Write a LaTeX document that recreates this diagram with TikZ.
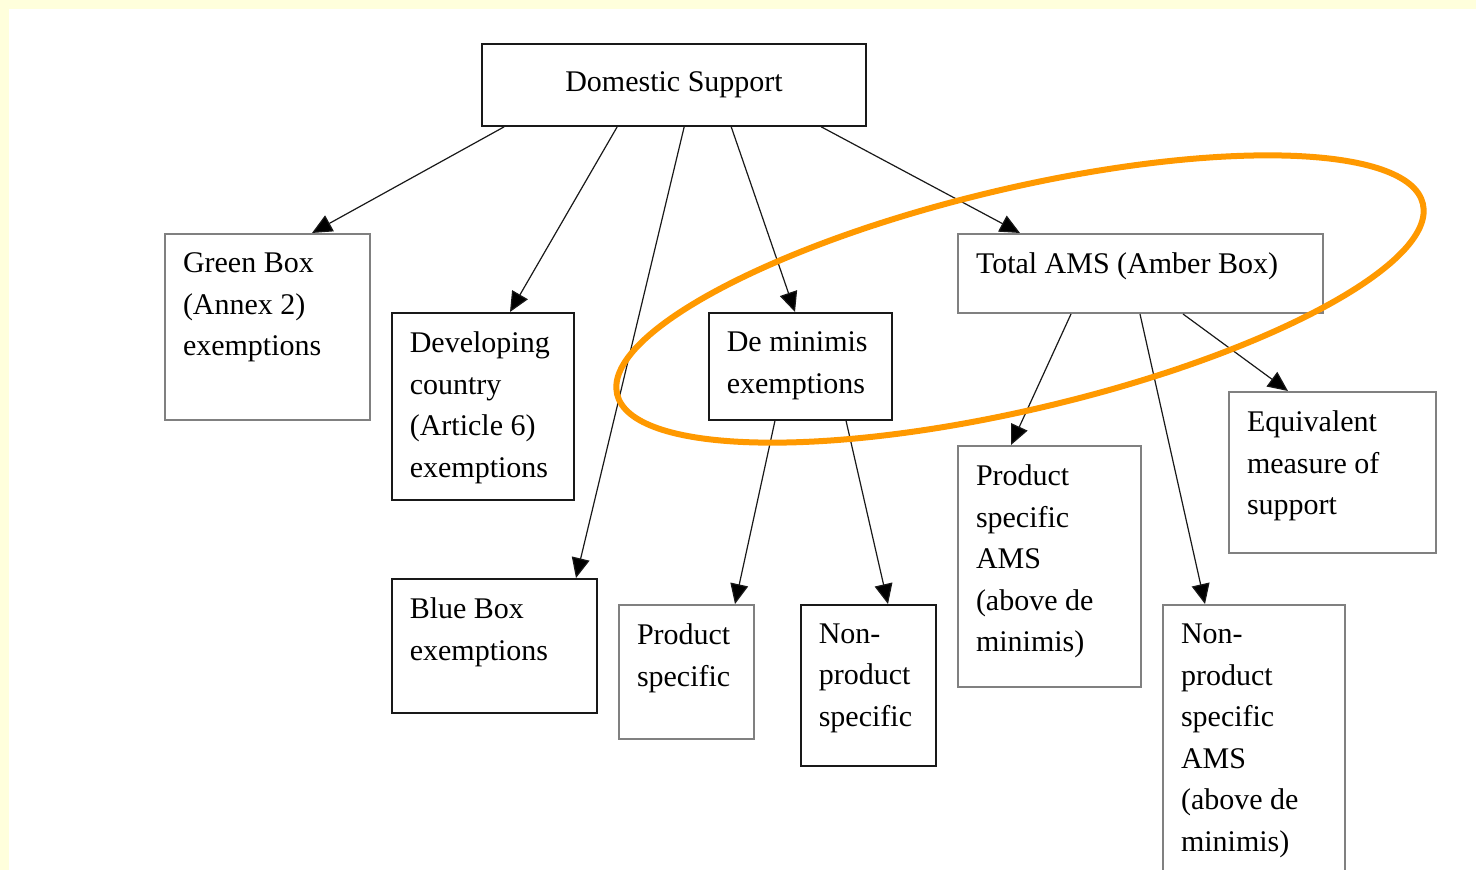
\documentclass[tikz,border=0pt]{standalone}
\usepackage{fontspec}
\setmainfont{Liberation Serif}
\usetikzlibrary{calc,arrows.meta}
\definecolor{paleyellow}{RGB}{255,255,220}
\definecolor{ambercol}{RGB}{255,153,0}
\newcommand{\boxtext}[3]{\parbox[t][#2][t]{#1}{#3}}

\begin{document}
\begin{tikzpicture}[x=1pt,y=-1pt,font=\fontsize{30}{41.5}\selectfont,
    box/.style={draw=black!90,line width=1.6pt,inner xsep=18pt,inner ysep=19pt,anchor=north west},
    greybox/.style={box,draw=black!50,line width=2pt},
    link/.style={draw=black!90,line width=1.2pt,-{Triangle[length=20pt,width=18pt,fill=black]}}]
          \useasboundingbox (0,0) rectangle (1476,870);
          \fill[paleyellow] (0,0) rectangle (1476,870);
          \fill[white] (9,9) rectangle (1476,870);
          % top box
          \node[box,anchor=center,minimum width=384pt,minimum height=82pt,inner sep=0pt] (ds) at (674,85) {Domestic Support};
          % second row
          \node[greybox] (gb) at (164,233) {\boxtext{169pt}{148pt}{Green Box\\(Annex 2)\\exemptions}};
          \node[box] (dev) at (391,312) {\boxtext{146pt}{149pt}{Developing\\country\\(Article 6)\\exemptions}};
          \node[box] (blue) at (391,578) {\boxtext{169pt}{96pt}{Blue Box\\exemptions}};
          \node[box] (demin) at (708,312) {\boxtext{147pt}{69pt}{De minimis\\exemptions}};
          \node[greybox] (tams) at (957,233) {\boxtext{329pt}{41pt}{Total AMS (Amber Box)}};
          % lower boxes
          \node[greybox] (ps) at (618,604) {\boxtext{99pt}{96pt}{Product\\specific}};
          \node[box] (nps) at (800,604) {\boxtext{99pt}{123pt}{Non-\\product\\specific}};
          \node[greybox] (psams) at (957,445) {\boxtext{147pt}{203pt}{Product\\specific\\AMS\\(above de\\minimis)}};
          \node[greybox] (eq) at (1228,391) {\boxtext{171pt}{123pt}{Equivalent\\measure of\\support}};
          \node[greybox] (npsams) at (1162,604) {\boxtext{146pt}{237pt}{Non-\\product\\specific\\AMS\\(above de\\minimis)}};
          % arrows
          \draw[link] ($(ds.south west)+(23,0)$) -- ($(gb.north west)+(148,0)$);
          \draw[link] ($(ds.south west)+(136,0)$) -- ($(dev.north west)+(119,0)$);
          \draw[link] ($(ds.south west)+(203,0)$) -- ($(blue.north west)+(185,0)$);
          \draw[link] ($(ds.south west)+(250,0)$) -- ($(demin.north west)+(87,0)$);
          \draw[link] ($(ds.south west)+(340,0)$) -- ($(tams.north west)+(63,0)$);
          \draw[link] ($(demin.south west)+(67,0)$) -- ($(ps.north west)+(117,0)$);
          \draw[link] ($(demin.south west)+(138,0)$) -- ($(nps.north west)+(88,0)$);
          \draw[link] ($(tams.south west)+(114,0)$) -- ($(psams.north west)+(54,0)$);
          \draw[link] ($(tams.south west)+(183,0)$) -- ($(npsams.north west)+(43,0)$);
          \draw[link] ($(tams.south west)+(226,0)$) -- ($(eq.north west)+(60,0)$);
          % amber ring
          \draw[ambercol,line width=6pt,shift={(1020,299)},rotate=13.3] (0,0) ellipse [x radius=414pt,y radius=110.5pt];
        \end{tikzpicture}
\end{document}
